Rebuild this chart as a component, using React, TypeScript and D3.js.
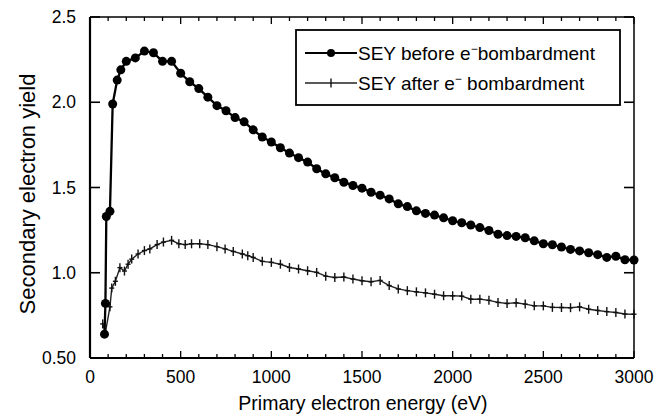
import React from 'react'
import * as d3 from 'd3'

// SEY before bombardment (eV, yield)
const beforeEnergy = [80, 85, 90, 110, 125, 150, 170, 200, 250, 300, 350, 400, 450, 500, 550, 600, 650, 700, 750, 800, 850, 900, 950, 1000, 1050, 1100, 1150, 1200, 1250, 1300, 1350, 1400, 1450, 1500, 1550, 1600, 1650, 1700, 1750, 1800, 1850, 1900, 1950, 2000, 2050, 2100, 2150, 2200, 2250, 2300, 2350, 2400, 2450, 2500, 2550, 2600, 2650, 2700, 2750, 2800, 2850, 2900, 2950, 3000]
const beforeYield = [0.64, 0.82, 1.33, 1.36, 1.99, 2.13, 2.19, 2.24, 2.26, 2.30, 2.29, 2.24, 2.24, 2.17, 2.12, 2.08, 2.03, 1.98, 1.95, 1.91, 1.885, 1.838, 1.796, 1.767, 1.733, 1.702, 1.675, 1.649, 1.61, 1.58, 1.557, 1.531, 1.512, 1.496, 1.472, 1.455, 1.433, 1.404, 1.388, 1.363, 1.348, 1.338, 1.322, 1.305, 1.293, 1.28, 1.265, 1.248, 1.226, 1.218, 1.213, 1.205, 1.187, 1.17, 1.164, 1.151, 1.137, 1.128, 1.117, 1.106, 1.09, 1.097, 1.076, 1.075]

// SEY after bombardment
const afterEnergy = [70, 85, 110, 120, 140, 165, 190, 210, 230, 265, 300, 330, 370, 405, 450, 490, 525, 560, 605, 650, 700, 745, 790, 840, 870, 900, 950, 1000, 1050, 1100, 1150, 1200, 1250, 1300, 1350, 1400, 1450, 1500, 1550, 1600, 1650, 1700, 1750, 1800, 1850, 1900, 1950, 2000, 2050, 2100, 2150, 2200, 2250, 2300, 2350, 2400, 2450, 2500, 2550, 2600, 2650, 2700, 2750, 2800, 2850, 2900, 2950, 3000]
const afterYield = [0.70, 0.65, 0.80, 0.91, 0.95, 1.03, 1.01, 1.05, 1.08, 1.11, 1.13, 1.14, 1.165, 1.18, 1.19, 1.17, 1.165, 1.17, 1.17, 1.165, 1.153, 1.14, 1.125, 1.11, 1.10, 1.09, 1.067, 1.061, 1.05, 1.031, 1.022, 1.012, 1.002, 0.98, 0.972, 0.975, 0.963, 0.953, 0.947, 0.955, 0.925, 0.905, 0.895, 0.888, 0.882, 0.874, 0.865, 0.865, 0.863, 0.845, 0.845, 0.838, 0.826, 0.82, 0.824, 0.816, 0.806, 0.806, 0.797, 0.796, 0.795, 0.80, 0.786, 0.779, 0.772, 0.767, 0.758, 0.757]

const xTicks = [0, 500, 1000, 1500, 2000, 2500, 3000]
const yTicks = [0.5, 1.0, 1.5, 2.0, 2.5]
const yTickLabels = ['0.50', '1.0', '1.5', '2.0', '2.5']

const W = 671, H = 420
const margin = {top: 17, right: 37, bottom: 62, left: 90}
const font = 'Liberation Sans, Arial, Helvetica, sans-serif'

export default function App() {
    const x = d3.scaleLinear().domain([0, 3000]).range([margin.left, W - margin.right])
    const y = d3.scaleLinear().domain([0.5, 2.5]).range([H - margin.bottom, margin.top])

    const before = beforeEnergy.map((e, i) => [e, beforeYield[i]])
    const after = afterEnergy.map((e, i) => [e, afterYield[i]])

    const line = d3.line().x(d => x(d[0])).y(d => y(d[1]))

    const minorX = d3.range(0, 3001, 100)
    const x0 = x(0), x1 = x(3000), yb = y(0.5), yt = y(2.5)

    return (
        <svg width={W} height={H} style={{position: 'absolute', left: 0, top: 0}} fontFamily={font}>
            <rect width={W} height={H} fill="#fff" />

            {/* frame */}
            <line x1={x0} x2={x1} y1={yt} y2={yt} stroke="#000" strokeWidth={1.5} />
            <line x1={x1} x2={x1} y1={yt} y2={yb} stroke="#000" strokeWidth={1.5} />
            <line x1={x0} x2={x0} y1={yt} y2={yb} stroke="#000" strokeWidth={2.2} />
            <line x1={x0} x2={x1} y1={yb} y2={yb} stroke="#000" strokeWidth={2.2} />

            {/* x ticks, bottom and top */}
            {minorX.map(v => {
                const len = v % 500 === 0 ? 7 : 4
                return (
                    <g key={'xt' + v}>
                        <line x1={x(v)} x2={x(v)} y1={yb} y2={yb - len} stroke="#000" strokeWidth={1.3} />
                        <line x1={x(v)} x2={x(v)} y1={yt} y2={yt + len} stroke="#000" strokeWidth={1.3} />
                    </g>
                )
            })}
            {xTicks.map(v => (
                <text key={'xl' + v} x={x(v)} y={yb + 25} textAnchor="middle" fontSize={17.5}>{v}</text>
            ))}

            {/* y ticks, left and right */}
            {yTicks.map((v, i) => (
                <g key={'yt' + v}>
                    <line x1={x0} x2={x0 + 10} y1={y(v)} y2={y(v)} stroke="#000" strokeWidth={1.6} />
                    <line x1={x1} x2={x1 - 10} y1={y(v)} y2={y(v)} stroke="#000" strokeWidth={1.6} />
                    <text x={x0 - 14} y={y(v) + 6} textAnchor="end" fontSize={17.5}>{yTickLabels[i]}</text>
                </g>
            ))}

            {/* series after */}
            <path d={line(after)} fill="none" stroke="#222" strokeWidth={1.4} />
            {after.map((d, i) => (
                <g key={'a' + i} stroke="#111" strokeWidth={1.4}>
                    <line x1={x(d[0])} x2={x(d[0])} y1={y(d[1]) - 4.5} y2={y(d[1]) + 4.5} />
                    <line x1={x(d[0]) - 2.5} x2={x(d[0]) + 2.5} y1={y(d[1])} y2={y(d[1])} />
                </g>
            ))}

            {/* series before */}
            <path d={line(before)} fill="none" stroke="#000" strokeWidth={2.3} />
            {before.map((d, i) => (
                <circle key={'b' + i} cx={x(d[0])} cy={y(d[1])} r={4.5} fill="#000" />
            ))}

            {/* legend */}
            <rect x={296} y={30} width={324} height={75} fill="#fff" stroke="#000" strokeWidth={1.8} />
            <line x1={305} x2={357} y1={53} y2={53} stroke="#000" strokeWidth={2.2} />
            <circle cx={331} cy={53} r={4} fill="#000" />
            <text x={358} y={59.5} fontSize={19}>
                SEY before e<tspan dy={-7} fontSize={12}>−</tspan><tspan dy={7}>bombardment</tspan>
            </text>
            <line x1={305} x2={357} y1={83} y2={83} stroke="#222" strokeWidth={1.4} />
            <line x1={331} x2={331} y1={78.5} y2={87.5} stroke="#111" strokeWidth={1.4} />
            <text x={358} y={89.5} fontSize={19}>
                SEY after e<tspan dy={-7} fontSize={12}>−</tspan><tspan dy={7}> bombardment</tspan>
            </text>

            {/* axis titles */}
            <text x={363} y={H - 10} textAnchor="middle" fontSize={19.5}>Primary electron energy (eV)</text>
            <text transform={`translate(35,194) rotate(-90)`} textAnchor="middle" fontSize={22}>Secondary electron yield</text>
        </svg>
    )
}
